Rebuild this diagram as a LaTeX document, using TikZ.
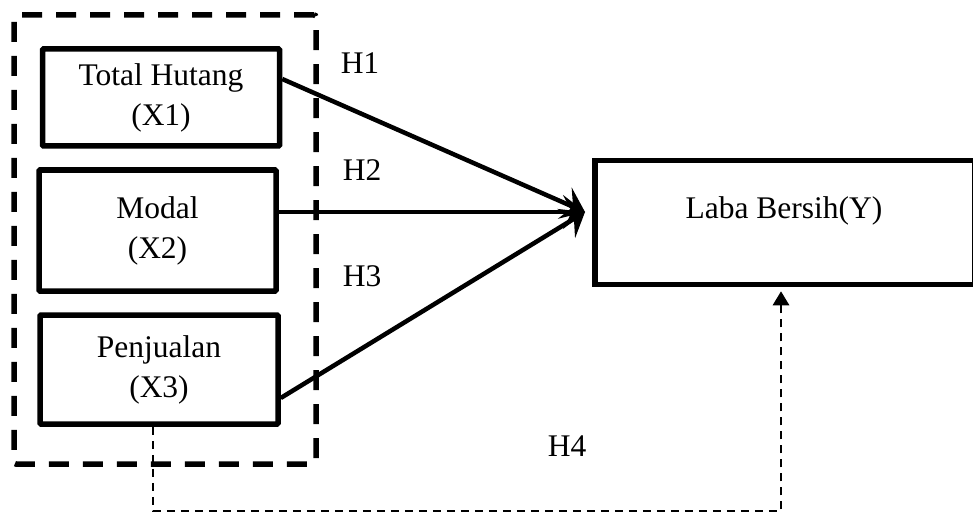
\documentclass[tikz,border=0pt]{standalone}
\usepackage{fontspec}
\setmainfont{Liberation Serif}
\usetikzlibrary{arrows.meta}
\begin{document}
\begin{tikzpicture}[x=1pt,y=-1pt,
  txt/.style={font=\fontsize{31.5}{40}\selectfont, inner sep=0pt},
  varbox/.style={draw, line width=5.5pt, align=center, inner sep=0pt,
    font=\fontsize{31.5}{40}\selectfont, rounded corners=1pt},
  grpbox/.style={draw, line width=5.5pt, dash pattern=on 20pt off 14pt, rounded corners=2pt},
  mainarrow/.style={line width=4.5pt, -{Stealth[length=22pt,width=34pt,inset=9pt]}},
  hfour/.style={line width=2.8pt, dash pattern=on 8pt off 6pt, -{Triangle[length=14pt,width=16pt]}}
]
\useasboundingbox (0,0) rectangle (973,513);
\begin{scope}
\clip (0,0) rectangle (973,513);
% group box
\node[grpbox, minimum width=302pt, minimum height=449pt] (grp) at (165,239.5) {};
% variable boxes
\node[varbox, minimum width=237pt, minimum height=97pt] (b1) at (161,97.5) {Total Hutang\\(X1)};
\node[varbox, minimum width=237pt, minimum height=121pt] (b2) at (157.5,230.5) {Modal\\(X2)};
\node[varbox, minimum width=238pt, minimum height=109pt] (b3) at (159,369.5) {Penjualan\\(X3)};
% dependent box
\node[draw, line width=5.5pt, minimum width=380pt, minimum height=124pt] (Y) at (785,222.5) {};
\node[txt] (ytext) at (784,211) {Laba Bersih(Y)};
% arrow tip
\coordinate (tip) at (585,212);
\draw[mainarrow] ([yshift=18.5pt]b1.east) -- (tip);
\draw[mainarrow] ([yshift=18.5pt]b2.east) -- (tip);
\draw[mainarrow] ([yshift=-28.5pt]b3.east) -- (tip);
% labels
\node[txt] (h1) at (360,63) {H1};
\node[txt] (h2) at (362,170) {H2};
\node[txt] (h3) at (362,276) {H3};
\node[txt] (h4) at (567,446) {H4};
% H4 connector
\coordinate (c1) at (153,511);
\coordinate (c2) at (781,511);
\draw[hfour] (b3.south -| c1) -- (c1) -- (c2) -- ([yshift=-4pt]Y.south -| c2);
\end{scope}
\end{tikzpicture}
\end{document}
